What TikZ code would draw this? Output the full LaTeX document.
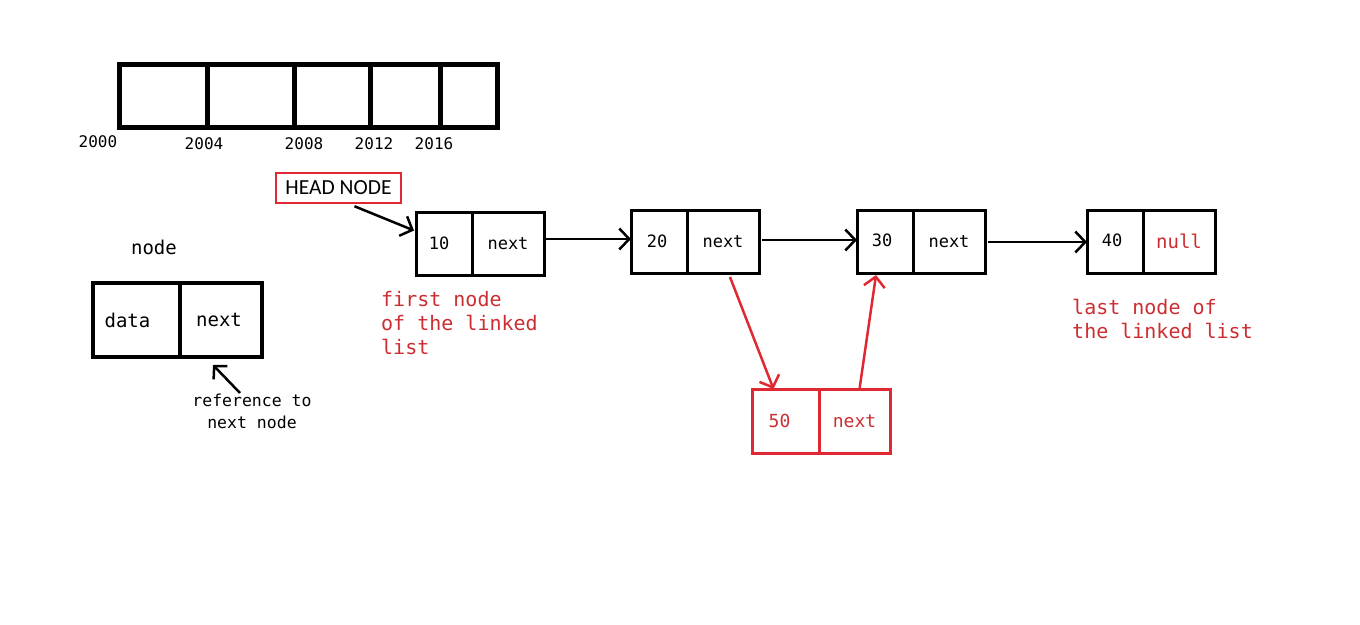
\documentclass[tikz,border=0pt]{standalone}
\usepackage{fontspec}
\setmonofont{DejaVu Sans Mono}
\newfontfamily\headfont{Carlito}
\usetikzlibrary{arrows.meta,calc}
\definecolor{myred}{RGB}{224,40,50}
\definecolor{txtred}{RGB}{205,45,50}
\begin{document}
\begin{tikzpicture}[x=1pt,y=-1pt,
  every node/.style={font=\ttfamily},
  arrcell/.style={draw,line width=5pt,minimum height=63pt,inner sep=0pt,outer sep=0pt},
  bigcell/.style={draw,line width=4pt,minimum height=74pt,inner sep=0pt,outer sep=0pt,font=\ttfamily\fontsize{19}{22}\selectfont},
  cell/.style={draw,line width=3pt,minimum height=63pt,inner sep=0pt,outer sep=0pt,font=\ttfamily\fontsize{17}{20}\selectfont},
  redcell/.style={cell,draw=myred,text=txtred,line width=3pt,minimum height=64pt,font=\ttfamily\fontsize{18}{20}\selectfont},
  yearlbl/.style={font=\ttfamily\fontsize{16}{18}\selectfont,inner sep=0pt},
  note/.style={align=left,text=txtred,inner sep=0pt,font=\ttfamily\fontsize{20}{24}\selectfont},
  link/.style={line width=2.5pt,-{Straight Barb[length=10pt,width=21pt,line width=2.5pt]}},
  redlink/.style={link,draw=myred}
]
\useasboundingbox (0,0) rectangle (1360,624);
% array
\node[arrcell,minimum width=88pt] (a1) at (163,95.5) {};
\node[arrcell,minimum width=87pt] (a2) at (250.5,95.5) {};
\node[arrcell,minimum width=76pt] (a3) at (332,95.5) {};
\node[arrcell,minimum width=70pt] (a4) at (405,95.5) {};
\node[arrcell,minimum width=57pt] (a5) at (468.5,95.5) {};
\node[yearlbl] (y0) at (98,142) {2000};
\node[yearlbl] (y1) at (204,144) {2004};
\node[yearlbl] (y2) at (304,144) {2008};
\node[yearlbl] (y3) at (374,144) {2012};
\node[yearlbl] (y4) at (434,144) {2016};
% generic node
\node[font=\ttfamily\fontsize{19}{22}\selectfont,inner sep=0pt] (nodelbl) at (154,247) {node};
\node[bigcell,minimum width=87pt] (d1) at (136.5,320) {\raisebox{-4pt}{\kern-18pt data}};
\node[bigcell,minimum width=82pt] (d2) at (221,320) {\raisebox{-4pt}{\kern-4pt next}};
\node[font=\ttfamily\fontsize{16.5}{22}\selectfont,align=center,inner sep=0pt] (ref) at (252,411) {reference to\\next node};
\coordinate (refstart) at (240,393);
\draw[line width=2.5pt,-{Straight Barb[length=9pt,width=19pt,line width=2.5pt]}] (refstart) -- ($(d2.south)+(-8,8)$);
% head node
\node[draw=myred,line width=2.5pt,minimum width=125pt,minimum height=30pt,inner sep=0pt,font=\headfont\fontsize{21.5}{22}\selectfont] (head) at (338.5,188) {HEAD NODE};
% list nodes
\node[cell,minimum width=56pt] (n1a) at (444,243.5) {\kern-10pt 10};
\node[cell,minimum width=72pt] (n1b) at (508,243.5) {next};
\node[cell,minimum width=56pt] (n2a) at (659,241.5) {\kern-4pt 20};
\node[cell,minimum width=72pt] (n2b) at (723,241.5) {next};
\node[cell,minimum width=56pt] (n3a) at (885,241.5) {\raisebox{2pt}{\kern-6pt 30}};
\node[cell,minimum width=72pt] (n3b) at (949,241.5) {next};
\node[cell,minimum width=56pt] (n4a) at (1115,241.5) {\raisebox{2pt}{\kern-6pt 40}};
\node[cell,minimum width=72pt,text=txtred,font=\ttfamily\fontsize{19}{20}\selectfont] (n4b) at (1179,241.5) {\raisebox{-2pt}{null}};
\node[redcell,minimum width=67pt] (n5a) at (785.5,421) {\kern-12pt 50};
\node[redcell,minimum width=71pt] (n5b) at (854.5,421) {next};
% notes
\node[note,anchor=north west] (firstnote) at (381,291) {first node\\of the linked\\list};
\node[note,anchor=north west] (lastnote) at (1072,299) {last node of\\the linked list};
% links
\draw[link] ($(head.south)+(16,2)$) -- ($(n1a.west)+(-2,-13)$);
\draw[link] ($(n1b.east)+(0,-4.5)$) -- ($(n2a.west)+(0,-2.5)$);
\draw[link] ($(n2b.east)+(3,-1.5)$) -- ($(n3a.west)+(0,-1.5)$);
\draw[link] ($(n3b.east)+(3,0.5)$) -- ($(n4a.west)+(0,0.5)$);
\draw[redlink] ($(n2b.south)+(7,4)$) -- ($(n5a.north)+(-12,0)$);
\draw[redlink] ($(n5b.north)+(5,0)$) -- ($(n3a.south)+(-9,2)$);
\end{tikzpicture}
\end{document}
